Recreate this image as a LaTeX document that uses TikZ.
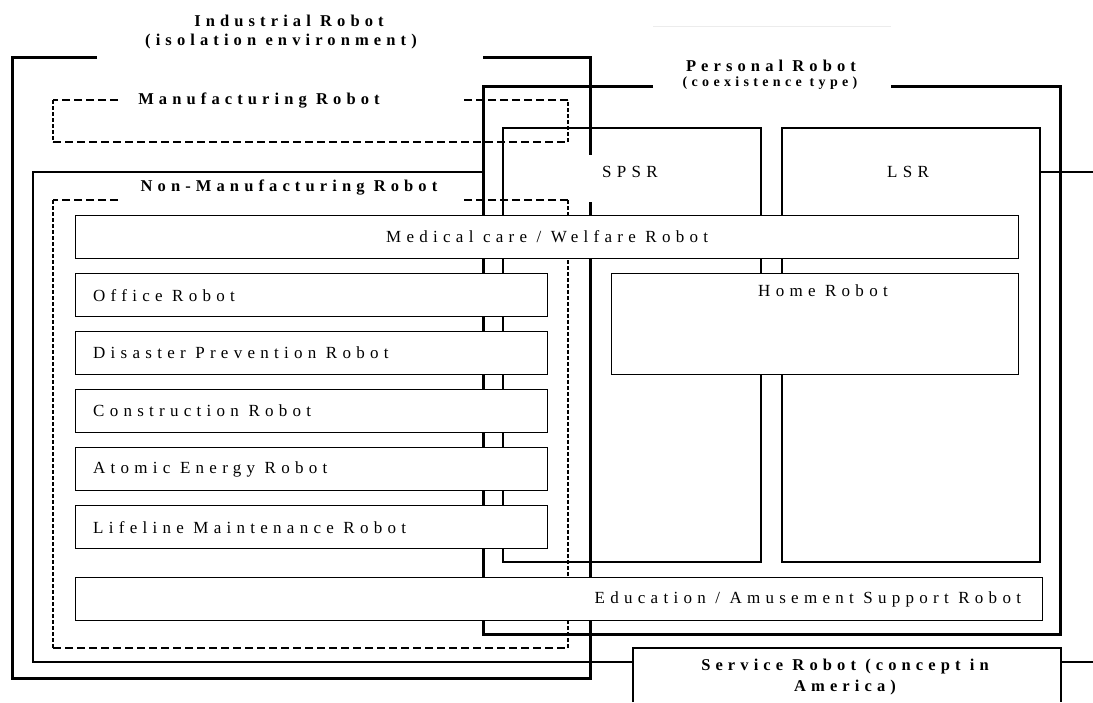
\documentclass[tikz,border=0pt]{standalone}
\usepackage{fontspec}
\setmainfont{Liberation Serif}[LetterSpace=31]
\begin{document}
\begin{tikzpicture}[x=1pt,y=-1pt,
  thickline/.style={line width=3pt},
  thinline/.style={line width=1.2pt},
  hdash/.style={line width=2pt, dash pattern=on 8pt off 4pt},
  vdash/.style={line width=2.2pt, dash pattern=on 4pt off 2pt},
  robotbox/.style={draw, line width=1.2pt, fill=white, inner sep=0pt, anchor=north west},
  lbl/.style={font=\fontsize{17}{20}\selectfont, inner sep=0pt},
  ttl/.style={font=\fontsize{16.5}{21}\selectfont\bfseries, inner sep=0pt},
  subttl/.style={font=\fontsize{14}{16}\selectfont\bfseries, inner sep=0pt}]
\useasboundingbox (0,0) rectangle (1093,702);
\fill[white] (0,0) rectangle (1093,702);

% faint line at top
\coordinate (fa) at (653,26); \coordinate (fb) at (891,26);
\draw[gray!15, line width=1pt] (fa) -- (fb);

% Service robot (thin)
\draw[thinline] (483,172) -- (33,172) -- (33,662) -- (633,662);
\draw[thinline] (1040,172) -- (1093,172);
\draw[thinline] (1061,662) -- (1093,662);
\draw[thinline] (633,702) -- (633,648) -- (1061,648) -- (1061,702);

% Personal robot (thick)
\draw[thickline] (653,86) -- (483,86) -- (483,634) -- (1060,634) -- (1060,86) -- (891,86);

% Industrial robot (thick)
\draw[thickline] (97,57) -- (12,57) -- (12,678) -- (590,678) -- (590,202);
\draw[thickline] (483,57) -- (590,57) -- (590,155);

% Manufacturing robot (dashed)
\draw[hdash] (118,100) -- (53,100);
\draw[vdash] (53,100) -- (53,142);
\draw[hdash] (53,142) -- (568,142);
\draw[vdash] (568,142) -- (568,100);
\draw[hdash] (568,100) -- (462,100);

% Non-manufacturing robot (dashed)
\draw[hdash] (118,200) -- (53,200);
\draw[vdash] (53,200) -- (53,648);
\draw[hdash] (53,648) -- (568,648);
\draw[vdash] (568,648) -- (568,200);
\draw[hdash] (568,200) -- (462,200);

% SPSR / LSR
\draw[thinline] (503,128) rectangle (761,562);
\draw[thinline] (782,128) rectangle (1040,562);

% filled boxes
\node[robotbox, minimum width=943pt, minimum height=43pt] (medical) at (75,215) {};
\node[robotbox, minimum width=472pt, minimum height=43pt] (office) at (75,273) {};
\node[robotbox, minimum width=472pt, minimum height=43pt] (disaster) at (75,331) {};
\node[robotbox, minimum width=472pt, minimum height=43pt] (construction) at (75,389) {};
\node[robotbox, minimum width=472pt, minimum height=43pt] (atomic) at (75,447) {};
\node[robotbox, minimum width=472pt, minimum height=43pt] (lifeline) at (75,505) {};
\node[robotbox, minimum width=407pt, minimum height=101pt] (home) at (611,273) {};
\node[robotbox, minimum width=967pt, minimum height=43pt] (education) at (75,577) {};

% texts
\node[ttl] (tind) at (289,21) {Industrial Robot};
\node[ttl] (tiso) at (281,42) {(isolation environment)};
\node[ttl] (tpers) at (771,66) {Personal Robot};
\node[subttl] (tcoex) at (770,83) {(coexistence type)};
\node[ttl] (tman) at (259,101) {Manufacturing Robot};
\node[ttl] (tnon) at (289,188) {Non-Manufacturing Robot};
\node[lbl] (tspsr) at (630,172) {SPSR};
\node[lbl] (tlsr) at (908,172) {LSR};
\node[lbl] (tmed) at (medical.center) {Medical care / Welfare Robot};
\node[lbl, anchor=west] (toff) at ([xshift=18pt]office.west) {Office Robot};
\node[lbl, anchor=west] (tdis) at ([xshift=18pt]disaster.west) {Disaster Prevention Robot};
\node[lbl, anchor=west] (tcon) at ([xshift=18pt]construction.west) {Construction Robot};
\node[lbl, anchor=west] (tato) at ([xshift=18pt]atomic.west) {Atomic Energy Robot};
\node[lbl, anchor=west] (tlif) at ([xshift=18pt]lifeline.west) {Lifeline Maintenance Robot};
\node[lbl] (thome) at (823,291) {Home Robot};
\node[lbl, anchor=east] (tedu) at ([xshift=-22pt]education.east) {Education / Amusement Support Robot};
\node[ttl, align=center] (tserv) at (845,677) {Service Robot (concept in\\America)};
\end{tikzpicture}
\end{document}
